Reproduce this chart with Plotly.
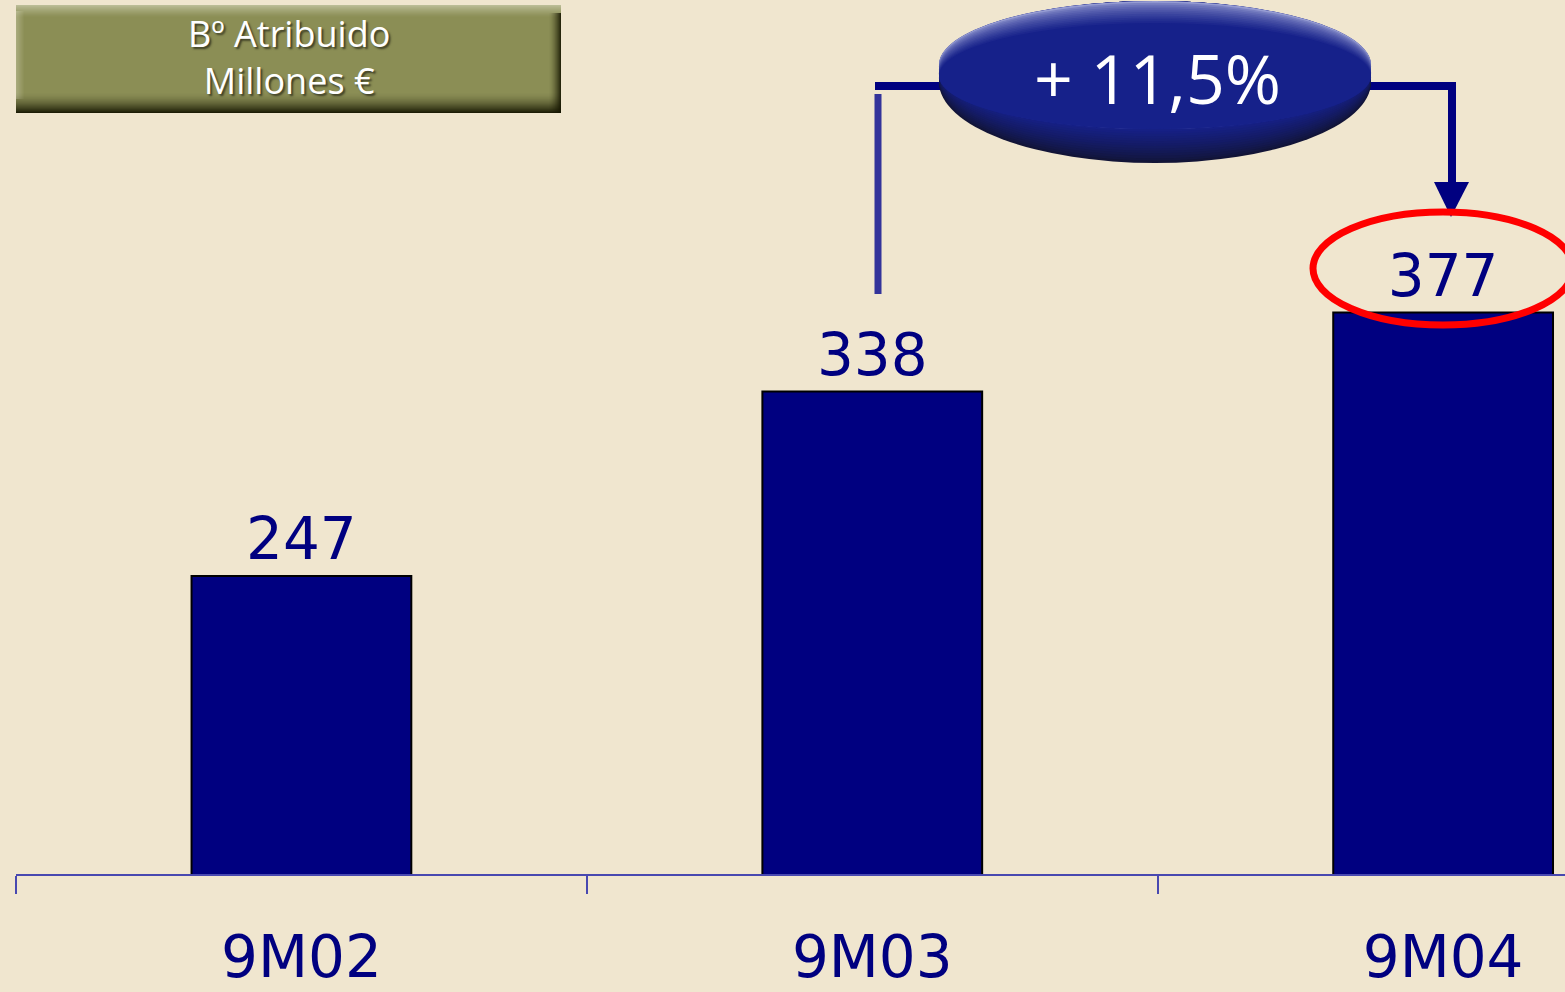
import plotly.graph_objects as go

# Beneficio atribuido, millones de euros
periods = ["9M02", "9M03", "9M04"]
profit = [247, 338, 377]
growth_label = "+ 11,5%"
box_title = ["Bº Atribuido", "Millones €"]

W, H = 1565, 992
BG = "#F0E6CF"
NAVY = "#000080"


def px(x):
    return x / W


def py(y):
    return 1 - y / H


def mix(c1, c2, t):
    r = round(c1[0] + (c2[0] - c1[0]) * t)
    g = round(c1[1] + (c2[1] - c1[1]) * t)
    b = round(c1[2] + (c2[2] - c1[2]) * t)
    return f"rgb({r},{g},{b})"


fig = go.Figure()

fig.add_trace(go.Bar(
    x=periods,
    y=profit,
    width=0.385,
    marker=dict(color=NAVY, line=dict(color="#000000", width=2)),
    text=[str(v) for v in profit],
    textposition="outside",
    constraintext="none",
    cliponaxis=False,
    textfont=dict(family="DejaVu Sans", size=58, color=NAVY),
    hoverinfo="skip",
))

shapes = []

# Olive header box with a soft bevel
bx0, bx1, by0, by1 = 16, 561, 5, 113
shapes.append(dict(type="rect", xref="paper", yref="paper",
                   x0=px(bx0), x1=px(bx1), y0=py(by1), y1=py(by0),
                   line=dict(width=0), fillcolor="#8B8E55", layer="above"))
# light top edge
for i in range(12):
    a = 0.5 * (1 - i / 12) ** 1.3
    shapes.append(dict(type="rect", xref="paper", yref="paper",
                       x0=px(bx0), x1=px(bx1), y0=py(by0 + i + 1), y1=py(by0 + i),
                       line=dict(width=0), fillcolor=f"rgba(235,235,215,{a:.3f})",
                       layer="above"))
# light left edge
for i in range(8):
    a = 0.3 * (1 - i / 8)
    shapes.append(dict(type="rect", xref="paper", yref="paper",
                       x0=px(bx0 + i), x1=px(bx0 + i + 1),
                       y0=py(by1 - 14), y1=py(by0 + 6),
                       line=dict(width=0), fillcolor=f"rgba(235,235,215,{a:.3f})",
                       layer="above"))
# dark bottom edge
for i in range(20):
    a = 0.92 * ((i + 1) / 20) ** 1.6
    shapes.append(dict(type="rect", xref="paper", yref="paper",
                       x0=px(bx0), x1=px(bx1),
                       y0=py(by1 - 20 + i + 1), y1=py(by1 - 20 + i),
                       line=dict(width=0), fillcolor=f"rgba(20,20,0,{a:.3f})",
                       layer="above"))
# dark right edge
for i in range(12):
    a = 0.85 * ((i + 1) / 12) ** 1.6
    shapes.append(dict(type="rect", xref="paper", yref="paper",
                       x0=px(bx1 - 12 + i), x1=px(bx1 - 12 + i + 1),
                       y0=py(by1), y1=py(by0 + 8),
                       line=dict(width=0), fillcolor=f"rgba(20,20,0,{a:.3f})",
                       layer="above"))

# Bracket from 9M03 to 9M04
shapes.append(dict(type="line", xref="paper", yref="paper",
                   x0=px(878), x1=px(878), y0=py(294), y1=py(94),
                   line=dict(color="#33339A", width=7), layer="above"))
shapes.append(dict(type="line", xref="paper", yref="paper",
                   x0=px(875), x1=px(945), y0=py(86), y1=py(86),
                   line=dict(color=NAVY, width=8), layer="above"))
shapes.append(dict(type="line", xref="paper", yref="paper",
                   x0=px(1365), x1=px(1456), y0=py(86), y1=py(86),
                   line=dict(color=NAVY, width=8), layer="above"))
shapes.append(dict(type="line", xref="paper", yref="paper",
                   x0=px(1452), x1=px(1452), y0=py(86), y1=py(186),
                   line=dict(color=NAVY, width=8), layer="above"))
shapes.append(dict(type="path", xref="paper", yref="paper",
                   path=f"M {px(1434)} {py(182)} L {px(1469)} {py(182)} "
                        f"L {px(1451)} {py(217)} Z",
                   line=dict(width=0), fillcolor=NAVY, layer="above"))

# Growth badge: stacked ellipses give a soft top light and bottom shade
ex0, ex1, ey0, ey1 = 939, 1371, 1, 163
badge = (22, 33, 138)
dark = (18, 20, 55)
light = (150, 156, 210)
n_bot, bot_span = 14, 34
for k in range(n_bot + 1):
    t = k / n_bot
    shapes.append(dict(type="circle", xref="paper", yref="paper",
                       x0=px(ex0), x1=px(ex1),
                       y0=py(ey1 - bot_span * t), y1=py(ey0),
                       line=dict(width=0), fillcolor=mix(dark, badge, t ** 0.8),
                       layer="above"))
n_top, top_span = 12, 22
for k in range(n_top + 1):
    t = k / n_top
    shapes.append(dict(type="circle", xref="paper", yref="paper",
                       x0=px(ex0), x1=px(ex1),
                       y0=py(ey1 - bot_span), y1=py(ey0 + top_span * t),
                       line=dict(width=0), fillcolor=mix(light, badge, t ** 0.6),
                       layer="above"))

# Red highlight ring around the latest value
shapes.append(dict(type="circle", xref="paper", yref="paper",
                   x0=px(1313), x1=px(1573), y0=py(325), y1=py(212),
                   line=dict(color="#FF0000", width=7), layer="above"))

title_font = dict(family="Open Sans", size=36, color="#FFFFFF",
                  shadow="2px 2px 2px rgba(50,50,30,0.85)")
annotations = [
    dict(xref="paper", yref="paper", x=px(289), y=py(57),
         text="<br>".join(box_title), showarrow=False,
         xanchor="center", yanchor="middle", align="center",
         font=title_font),
    dict(xref="paper", yref="paper", x=px(1157), y=py(77),
         text=growth_label, showarrow=False, xanchor="center", yanchor="middle",
         font=dict(family="Open Sans", size=68, color="#FFFFFF")),
]

fig.update_layout(
    width=W, height=H,
    margin=dict(l=0, r=0, t=0, b=0),
    paper_bgcolor=BG, plot_bgcolor=BG,
    showlegend=False,
    shapes=shapes,
    annotations=annotations,
    xaxis=dict(
        type="category",
        domain=[16 / W, 1],
        range=[-0.5, 2.2135],
        tickson="boundaries",
        ticks="outside", ticklen=18, tickwidth=2, tickcolor="#4848B0",
        showline=True, linecolor="#4848B0", linewidth=2,
        showgrid=False, zeroline=False,
        tickfont=dict(family="DejaVu Sans", size=58, color=NAVY),
        ticklabelstandoff=31,
        automargin=False,
    ),
    yaxis=dict(
        domain=[(H - 874) / H, 1],
        range=[100, 100 + 874 / 2.027],
        visible=False, showgrid=False, zeroline=False,
        automargin=False,
    ),
    bargap=0.6,
)

fig.write_html("out.html")
